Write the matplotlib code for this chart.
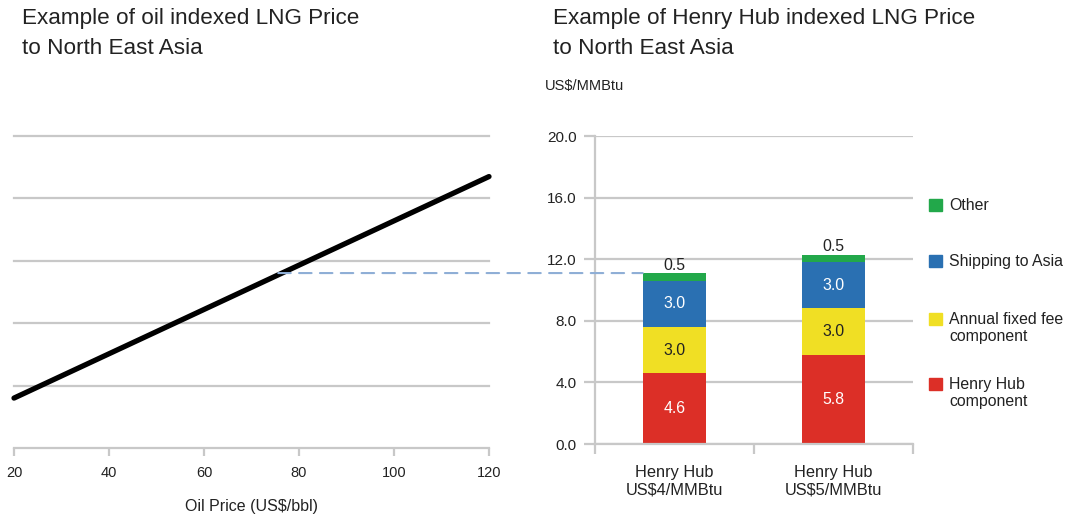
import numpy as np
import matplotlib
matplotlib.use("Agg")
import matplotlib.pyplot as plt
from matplotlib.patches import Rectangle, ConnectionPatch
from matplotlib.transforms import blended_transform_factory

plt.rcParams["font.family"] = ["Liberation Sans", "DejaVu Sans"]

# ---- data -------------------------------------------------------------
oil_price = [20, 120]            # US$/bbl
oil_lng_price = [3.2, 17.4]      # US$/MMBtu

categories = ["Henry Hub\nUS$4/MMBtu", "Henry Hub\nUS$5/MMBtu"]
henry_hub = [4.6, 5.8]
annual_fee = [3.0, 3.0]
shipping = [3.0, 3.0]
other = [0.5, 0.5]

series_names = ["Henry Hub\ncomponent", "Annual fixed fee\ncomponent",
                "Shipping to Asia", "Other"]
series_colors = ["#dc2f27", "#f0df24", "#2a70b2", "#22a84a"]
label_colors = ["white", "#222222", "white", "#222222"]

W, H = 1072, 517
GRID = "#c8c8c8"
TXT = "#222222"

fig = plt.figure(figsize=(W / 100, H / 100), dpi=100)


def fx(px):
    return px / W


def fy(py):
    return 1 - py / H


# ---- left panel: oil indexed price ------------------------------------
axL = fig.add_axes([fx(14), fy(448), fx(489) - fx(14), fy(136) - fy(448)])
axL.set_xlim(20, 120)
axL.set_ylim(0, 20)
for v in [4, 8, 12, 16, 20]:
    axL.axhline(v, color=GRID, lw=1.6, zorder=1, clip_on=False)
axL.plot(oil_price, oil_lng_price, color="black", lw=3.8,
         solid_capstyle="round", zorder=3, clip_on=False)
for s in ["top", "right", "left"]:
    axL.spines[s].set_visible(False)
axL.spines["bottom"].set_color(GRID)
axL.spines["bottom"].set_linewidth(1.6)
axL.set_yticks([])
axL.set_xticks([20, 40, 60, 80, 100, 120])
axL.tick_params(axis="x", length=6, width=1.6, color=GRID, labelsize=10.5,
                labelcolor=TXT, pad=7)
axL.set_xlabel("Oil Price (US$/bbl)", fontsize=11.5, color=TXT, labelpad=14)

# ---- right panel: Henry Hub indexed price -----------------------------
axR = fig.add_axes([fx(595), fy(444), fx(913) - fx(595), fy(136) - fy(444)])
axR.set_xlim(-0.5, 1.5)
axR.set_ylim(0, 20)
axR.set_yticks([0, 4, 8, 12, 16, 20])
axR.set_yticklabels([f"{v:.1f}" for v in [0, 4, 8, 12, 16, 20]])
axR.yaxis.grid(True, color=GRID, lw=1.6, zorder=0)
axR.set_axisbelow(True)
for s in ["top", "right"]:
    axR.spines[s].set_visible(False)
for s in ["left", "bottom"]:
    axR.spines[s].set_color(GRID)
    axR.spines[s].set_linewidth(1.6)
axR.tick_params(axis="y", length=8, width=1.6, color=GRID, labelsize=11,
                labelcolor=TXT, pad=5)
x = np.arange(len(categories))
axR.set_xticks(x)
axR.set_xticklabels(categories)
axR.tick_params(axis="x", which="major", length=0, labelsize=11.8,
                labelcolor=TXT, pad=15)
axR.set_xticks([-0.5, 0.5, 1.5], minor=True)
axR.tick_params(axis="x", which="minor", length=7, width=1.6, color=GRID)

bar_w = 0.40
bottom = np.zeros(len(categories))
stack = [henry_hub, annual_fee, shipping, other]
for vals, col, lc, k in zip(stack, series_colors, label_colors, range(4)):
    vals = np.asarray(vals)
    axR.bar(x, vals, bar_w, bottom=bottom, color=col, zorder=2)
    for xi, b, v in zip(x, bottom, vals):
        if k == 3:
            axR.text(xi, b + v + 0.02, f"{v:.1f}", ha="center", va="bottom",
                     fontsize=11.4, color=lc)
        else:
            axR.text(xi, b + v / 2, f"{v:.1f}", ha="center", va="center",
                     fontsize=11.4, color=lc)
    bottom = bottom + vals

# dashed link from the oil curve across to the first bar's total
total0 = bottom[0]
oil_at_total = np.interp(total0, oil_lng_price, oil_price)
link_tf = blended_transform_factory(axL.transData, axR.transData)
con = ConnectionPatch(xyA=(oil_at_total, total0), coordsA=link_tf,
                      xyB=(x[0] - bar_w / 2, total0), coordsB=axR.transData,
                      color="#8eaed6", lw=1.5, linestyle=(0, (6, 4)),
                      zorder=1)
fig.add_artist(con)

# ---- legend -----------------------------------------------------------
leg_rows = [384, 319, 261, 205]
for name, col, yc in zip(series_names, series_colors, leg_rows):
    fig.add_artist(Rectangle((fx(929), fy(yc + 6)), fx(13), fy(0) - fy(12),
                             transform=fig.transFigure, color=col))
    fig.text(fx(949), fy(yc - 7), name, ha="left", va="top", fontsize=11.4,
             color=TXT, linespacing=1.2)

# ---- titles -----------------------------------------------------------
fig.text(fx(22), fy(8), "Example of oil indexed LNG Price\nto North East Asia",
         ha="left", va="top", fontsize=16.2, color=TXT, linespacing=1.55)
fig.text(fx(553), fy(8),
         "Example of Henry Hub indexed LNG Price\nto North East Asia",
         ha="left", va="top", fontsize=16.2, color=TXT, linespacing=1.55)
fig.text(fx(545), fy(86), "US$/MMBtu", ha="left", va="center", fontsize=10.5,
         color=TXT)

fig.savefig("out.png", dpi=100)
